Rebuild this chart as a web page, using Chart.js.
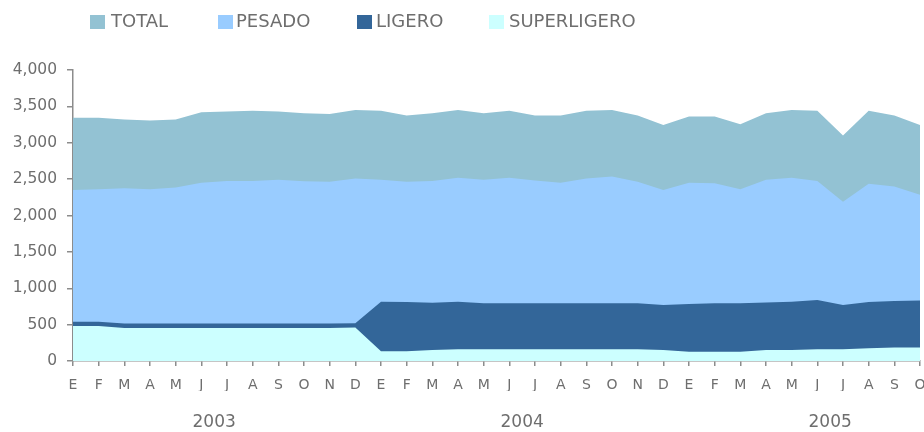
<!DOCTYPE html>
<html>
<head>
<meta charset="utf-8">
<script src="https://cdn.jsdelivr.net/npm/chart.js@4/dist/chart.umd.min.js"></script>
<style>
html,body{margin:0;padding:0;background:#fff;}
#wrap{position:relative;width:924px;height:432px;}
#c{position:absolute;left:0;top:0;}
#legend{position:absolute;left:0;top:0;width:924px;height:40px;font-family:"DejaVu Sans";font-size:18px;color:#6e6e6e;}
.sw{position:absolute;top:15px;width:15px;height:14px;}
.tx{position:absolute;top:10px;line-height:22px;white-space:nowrap;}
</style>
</head>
<body>
<div id="wrap">
<canvas id="c" width="924" height="432"></canvas>
<div id="legend"></div>
</div>
<script>
// ---- data ----
const months = ['E','F','M','A','M','J','J','A','S','O','N','D',
                'E','F','M','A','M','J','J','A','S','O','N','D',
                'E','F','M','A','M','J','J','A','S','O'];
const years = ['2003','2004','2005'];
const yearCenters = [5.5, 17.5, 29.5];
const seriesNames = ['TOTAL','PESADO','LIGERO','SUPERLIGERO'];
const total = [3345,3345,3320,3305,3320,3420,3430,3440,3430,3405,3395,3450,
               3440,3375,3405,3450,3405,3440,3375,3375,3440,3450,3375,3245,
               3360,3360,3255,3405,3450,3440,3100,3440,3375,3245];
const pesado = [2350,2360,2375,2360,2385,2450,2475,2475,2490,2470,2465,2510,
                2490,2465,2475,2520,2490,2520,2480,2450,2510,2535,2465,2350,
                2450,2445,2360,2490,2520,2475,2190,2435,2400,2285];
const ligero = [540,540,515,515,515,515,515,515,515,515,515,520,
                815,810,800,815,795,795,795,795,795,795,795,770,
                785,795,795,805,815,840,770,810,825,830];
const superligero = [480,480,455,455,455,455,455,455,455,455,455,460,
                     135,135,150,160,160,160,160,160,160,160,160,150,
                     128,128,128,150,150,160,160,175,185,185];
const yTicks = [0,500,1000,1500,2000,2500,3000,3500,4000];

// ---- styles ----
const colors = ['#93C2D3','#99CCFF','#336699','#CCFFFF'];
const textColor = '#6e6e6e';
const axisColor = '#8c8c8c';
const fontFamily = 'DejaVu Sans';

const seriesValues = [total, pesado, ligero, superligero];
const datasets = seriesNames.map((name, i) => ({
  label: name,
  data: seriesValues[i],
  backgroundColor: colors[i],
  borderColor: colors[i],
  borderWidth: 0,
  fill: 'origin',
  pointRadius: 0,
  tension: 0,
  order: seriesNames.length - i,
  xAxisID: 'x',
  yAxisID: 'y'
}));

new Chart(document.getElementById('c'), {
  type: 'line',
  data: { labels: months, datasets },
  options: {
    responsive: false,
    animation: false,
    devicePixelRatio: 1,
    layout: { padding: { top: 70, left: 0, right: 4, bottom: 0 } },
    plugins: { legend: { display: false }, tooltip: { enabled: false } },
    scales: {
      x: {
        type: 'category',
        offset: false,
        weight: 0,
        grid: { display: true, drawOnChartArea: false, drawTicks: true, tickLength: 5, color: axisColor, lineWidth: 1.5 },
        border: { display: true, color: axisColor, width: 1.5 },
        ticks: { autoSkip: false, maxRotation: 0, minRotation: 0, padding: 11, color: textColor, font: { family: fontFamily, size: 14 } },
        afterFit(s) { s.height = 30; s.paddingLeft = 0; s.paddingRight = 4; }
      },
      x2: {
        type: 'linear',
        position: 'bottom',
        min: 0,
        max: months.length - 1,
        weight: 1,
        grid: { display: false, drawTicks: false },
        border: { display: false },
        afterBuildTicks(s) { s.ticks = yearCenters.map(v => ({ value: v })); },
        ticks: { autoSkip: false, maxRotation: 0, padding: 21, color: textColor, font: { family: fontFamily, size: 17 },
                 callback: (v, i) => years[i] },
        afterFit(s) { s.height = 41; s.paddingLeft = 0; s.paddingRight = 0; }
      },
      y: {
        min: 0,
        max: 4000,
        afterBuildTicks(s) { s.ticks = yTicks.map(v => ({ value: v })); },
        grid: { drawOnChartArea: false, drawTicks: true, tickLength: 6, color: axisColor, lineWidth: 1.5 },
        border: { display: true, color: axisColor, width: 1.5 },
        ticks: { padding: 10, color: textColor, font: { family: fontFamily, size: 15.5 },
                 callback: v => v.toLocaleString('en-US') },
        afterFit(s) { s.width = 73; }
      }
    }
  }
});

// ---- HTML legend ----
const legendPos = [[90,111],[218,236],[357,376],[489,509]];
const lg = document.getElementById('legend');
seriesNames.forEach((name, i) => {
  const sw = document.createElement('div');
  sw.className = 'sw';
  sw.style.left = legendPos[i][0] + 'px';
  sw.style.background = colors[i];
  const tx = document.createElement('div');
  tx.className = 'tx';
  tx.style.left = legendPos[i][1] + 'px';
  tx.textContent = name;
  lg.appendChild(sw);
  lg.appendChild(tx);
});
</script>
</body>
</html>
